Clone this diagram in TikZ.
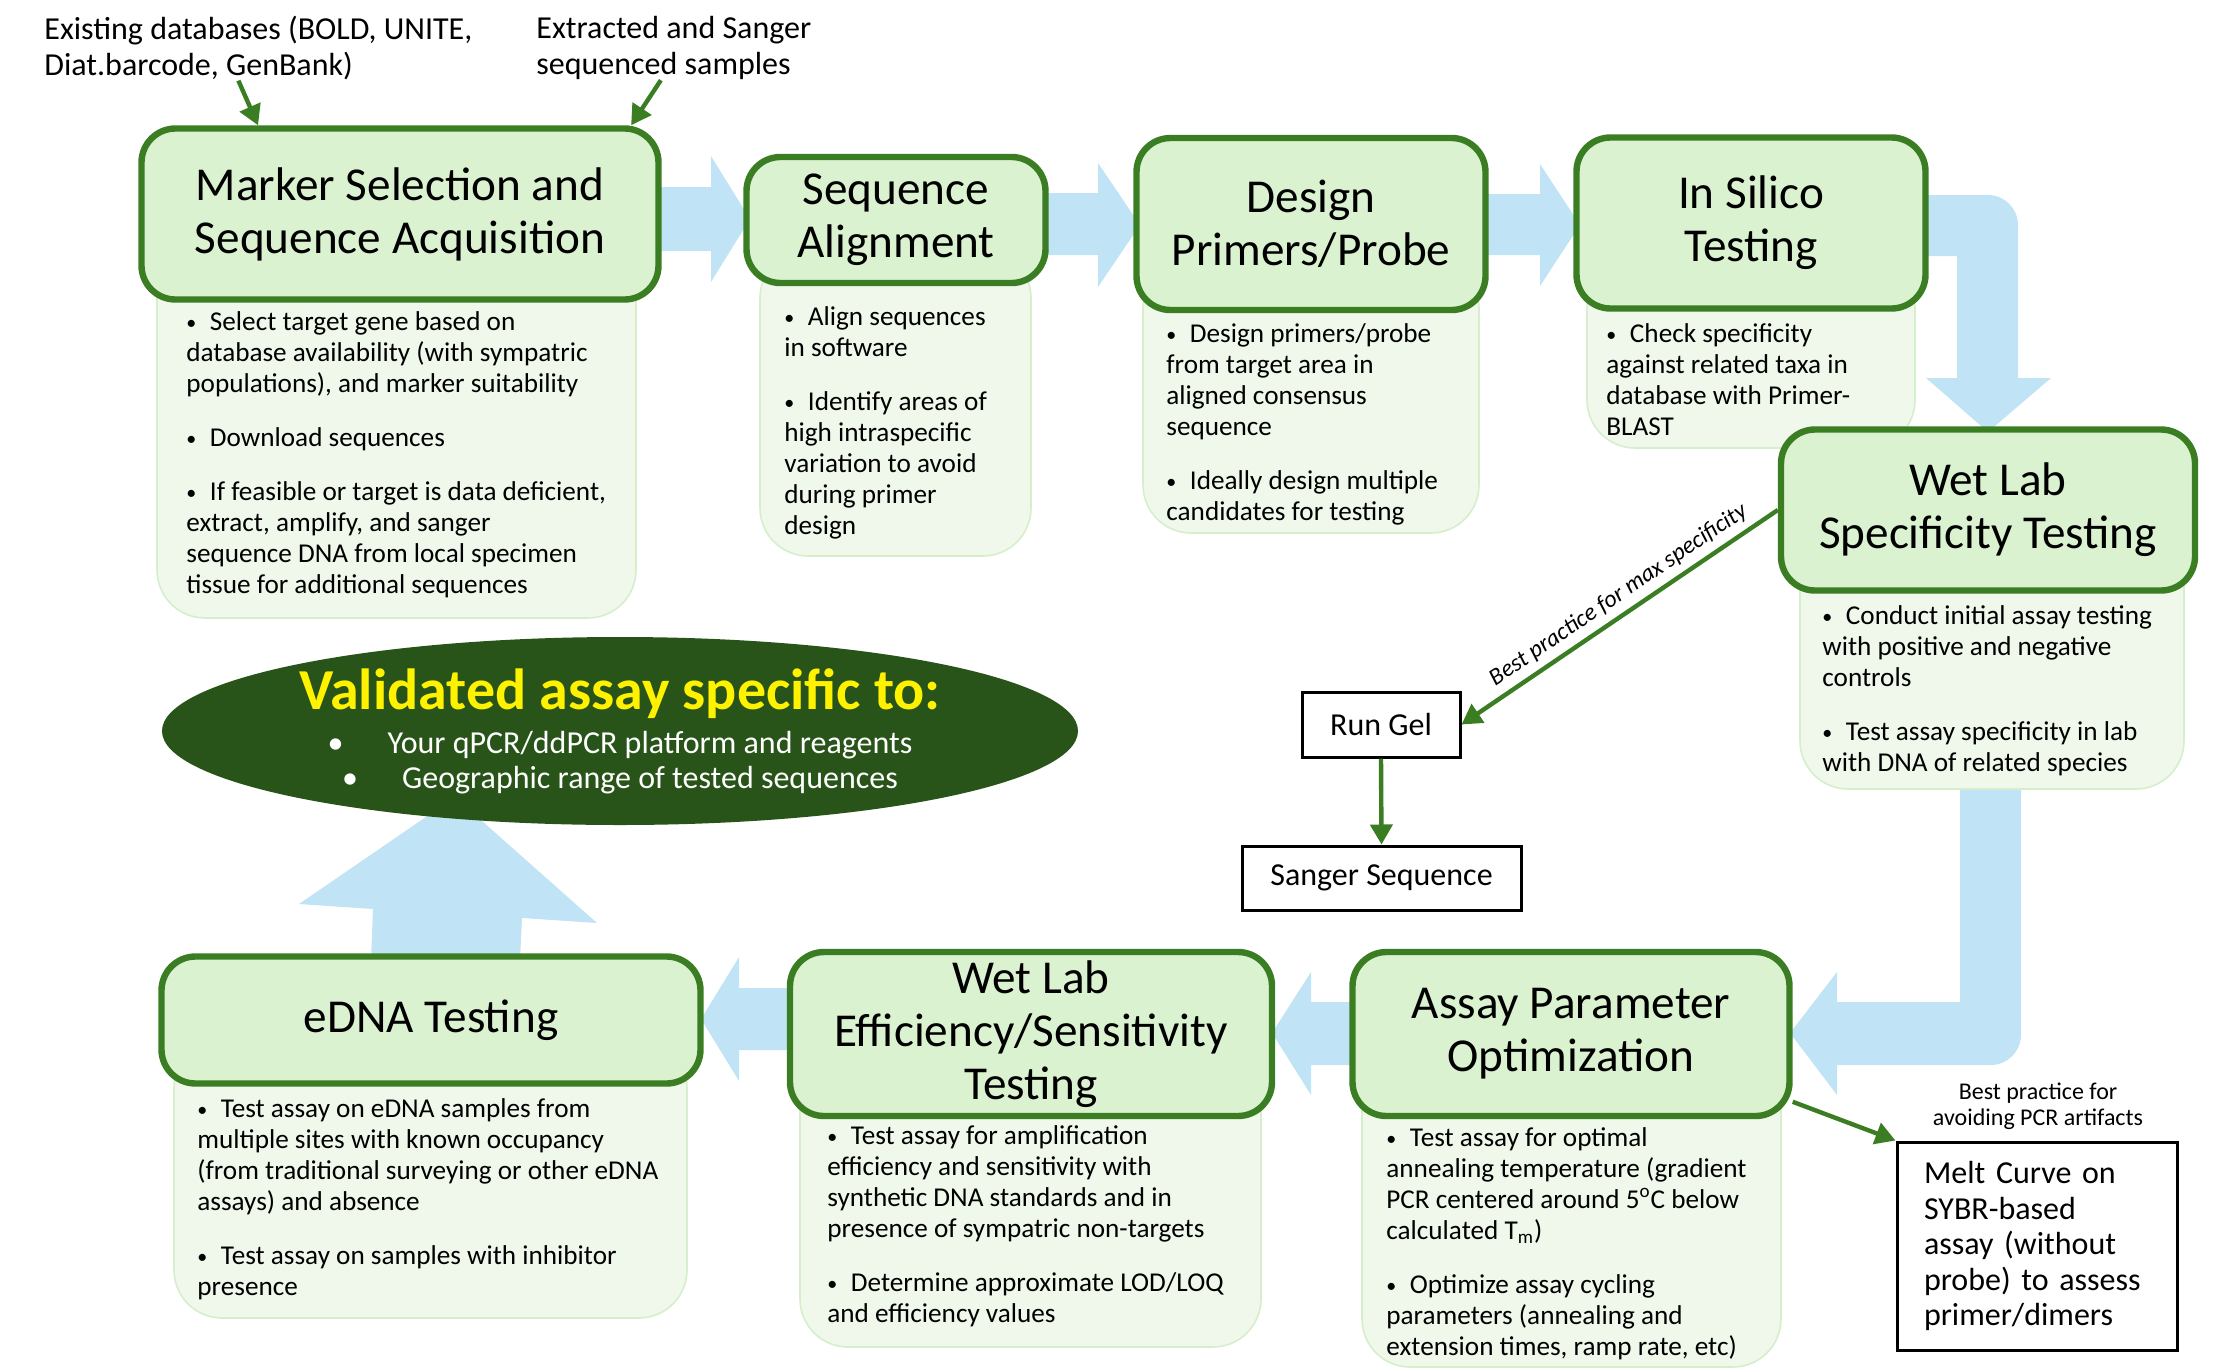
\documentclass[tikz,border=0pt]{standalone}
\usepackage{fontspec}
\setmainfont{Carlito}
\usetikzlibrary{positioning,shapes.geometric,arrows.meta}

\definecolor{stepgreen}{RGB}{59,125,35}
\definecolor{stepfill}{RGB}{218,242,208}
\definecolor{notefill}{RGB}{239,248,235}
\definecolor{noteline}{RGB}{214,238,204}
\definecolor{flowblue}{RGB}{192,228,245}
\definecolor{darkgreen}{RGB}{40,84,25}

\newcommand{\bul}{{\fontsize{10}{10}\selectfont\raisebox{0.12ex}{•}}\hspace{0.5em}}

\begin{document}
\begin{tikzpicture}[x=0.5pt,y=-0.5pt,
	stepbox/.style={rectangle, rounded corners=17pt, draw=stepgreen, fill=stepfill, line width=3.2pt, align=center, font=\fontsize{23.6}{26.5}\selectfont},
	notebox/.style={rectangle, rounded corners=24pt, draw=noteline, fill=notefill, line width=0.8pt},
	notetext/.style={anchor=north west, inner sep=0pt, align=left, font=\fontsize{13.6}{15.5}\selectfont},
	plainbox/.style={rectangle, draw=black, line width=1.5pt, fill=white, font=\fontsize{16}{17.5}\selectfont},
	flowarrow/.style={fill=flowblue},
	greenarrow/.style={-{Triangle[length=10pt,width=11pt]}, draw=stepgreen, line width=2.2pt},
	]
	\useasboundingbox (0,0) rectangle (2222,1371);
	%Blue flow arrows
	\fill[flowarrow] (650,187) -- (711,187) -- (711,156) -- (750,219) -- (711,282) -- (711,251) -- (650,251) -- cycle;
	\fill[flowarrow] (1040,193) -- (1098,193) -- (1098,163) -- (1140,225) -- (1098,287) -- (1098,255) -- (1040,255) -- cycle;
	\fill[flowarrow] (1480,194) -- (1540,194) -- (1540,164) -- (1580,225) -- (1540,286) -- (1540,255) -- (1480,255) -- cycle;
	\fill[flowarrow] (1920,195) -- (1988,195) .. controls (2004.5,195) and (2018,208.5) .. (2018,225) -- (2018,378) -- (2051,378) -- (1988,432) -- (1926,378) -- (1957,378) -- (1957,256) -- (1920,256) -- cycle;
	\fill[flowarrow] (1960,780) -- (2021,780) -- (2021,1035) .. controls (2021,1051.5) and (2007.5,1065) .. (1991,1065) -- (1837,1065) -- (1837,1095) -- (1790,1033) -- (1837,972) -- (1837,1002) -- (1960,1002) -- cycle;
	\fill[flowarrow] (1360,1002) -- (1311,1002) -- (1311,972) -- (1272,1033) -- (1311,1095) -- (1311,1065) -- (1360,1065) -- cycle;
	\fill[flowarrow] (795,988) -- (739,988) -- (739,957) -- (701,1019) -- (739,1081) -- (739,1050) -- (795,1050) -- cycle;
	\fill[flowarrow] (371,960) -- (373,909) -- (299,904) -- (455,797) -- (597,923) -- (522,918) -- (520,960) -- cycle;
	%
	%Note boxes
	\node[notebox, minimum width=239.5pt, minimum height=184pt] (markN) at (396.5,434) {};
	\node[notebox, minimum width=135.5pt, minimum height=153pt] (alignN) at (895.5,403) {};
	\node[notebox, minimum width=168pt, minimum height=136.5pt] (designN) at (1311,396.5) {};
	\node[notebox, minimum width=164pt, minimum height=94pt] (silicoN) at (1751,354) {};
	\node[notebox, minimum width=192pt, minimum height=124.5pt] (specN) at (1992,664.5) {};
	\node[notebox, minimum width=209.5pt, minimum height=153.5pt] (assayN) at (1571.5,1213.5) {};
	\node[notebox, minimum width=230.5pt, minimum height=143.5pt] (efficN) at (1030.5,1203.5) {};
	\node[notebox, minimum width=256.5pt, minimum height=139pt] (ednaN) at (430.5,1179) {};
	%
	\node[notetext] (markT) at (186,311) {\bul Select target gene based on\\database availability (with sympatric\\populations), and marker suitability\\[11.5pt]\bul Download sequences\\[11.5pt]\bul If feasible or target is data deficient,\\extract, amplify, and sanger\\sequence DNA from local specimen\\tissue for additional sequences};
	\node[notetext] (alignT) at (784,306) {\bul Align sequences\\in software\\[11.5pt]\bul Identify areas of\\high intraspecific\\variation to avoid\\during primer\\design};
	\node[notetext] (designT) at (1166,323) {\bul Design primers/probe\\from target area in\\aligned consensus\\sequence\\[11.5pt]\bul Ideally design multiple\\candidates for testing};
	\node[notetext] (silicoT) at (1606,323) {\bul Check specificity\\against related taxa in\\database with Primer-\\BLAST};
	\node[notetext] (specT) at (1822,605) {\bul Conduct initial assay testing\\with positive and negative\\controls\\[11.5pt]\bul Test assay specificity in lab\\with DNA of related species};
	\node[notetext] (assayT) at (1386,1127) {\bul Test assay for optimal\\annealing temperature (gradient\\PCR centered around 5\textsuperscript{o}C below\\calculated T\textsubscript{m})\\[11.5pt]\bul Optimize assay cycling\\parameters (annealing and\\extension times, ramp rate, etc)};
	\node[notetext] (efficT) at (827,1125) {\bul Test assay for amplification\\efficiency and sensitivity with\\synthetic DNA standards and in\\presence of sympatric non-targets\\[11.5pt]\bul Determine approximate LOD/LOQ\\and efficiency values};
	\node[notetext] (ednaT) at (197,1098) {\bul Test assay on eDNA samples from\\multiple sites with known occupancy\\(from traditional surveying or other eDNA\\assays) and absence\\[11.5pt]\bul Test assay on samples with inhibitor\\presence};
	%
	%Step boxes
	\node[stepbox, minimum width=258.5pt, minimum height=85.5pt] (mark) at (400,214) {Marker Selection and\\Sequence Acquisition};
	\node[stepbox, minimum width=149.5pt, minimum height=63pt] (align) at (896,220) {Sequence\\Alignment};
	\node[stepbox, minimum width=174.5pt, minimum height=86pt] (design) at (1311,224) {Design\\Primers/Probe};
	\node[stepbox, minimum width=174.5pt, minimum height=85.5pt] (silico) at (1751,223) {In Silico\\Testing};
	\node[stepbox, minimum width=207pt, minimum height=80.5pt] (spec) at (1988,510) {Wet Lab\\Specificity Testing};
	\node[stepbox, minimum width=218.5pt, minimum height=82pt] (assay) at (1571,1034) {Assay Parameter\\Optimization};
	\node[stepbox, minimum width=241pt, minimum height=82pt] (effic) at (1031,1034) {Wet Lab\\Efficiency/Sensitivity\\Testing};
	\node[stepbox, minimum width=269.5pt, minimum height=63.5pt] (edna) at (431,1020) {eDNA Testing};
	%
	%Result
	\node[ellipse, fill=darkgreen, minimum width=458pt, minimum height=94pt, inner sep=0pt, align=center, text=white, font=\fontsize{16}{17.5}\selectfont] (valid) at (620,731) {{\color{yellow}\bfseries\fontsize{29}{30}\selectfont Validated assay specific to:}\\[4.5pt]•\hspace{22pt}Your qPCR/ddPCR platform and reagents\\•\hspace{22pt}Geographic range of tested sequences};
	%
	%Sources
	\node[anchor=north west, inner sep=0pt, align=left, font=\fontsize{16}{18}\selectfont] (db) at (44,16) {Existing databases (BOLD, UNITE,\\Diat.barcode, GenBank)};
	\node[anchor=north west, inner sep=0pt, align=left, font=\fontsize{16}{18}\selectfont] (sam) at (536,16) {Extracted and Sanger\\sequenced samples};
	%
	%Checks
	\node[plainbox, minimum width=79pt, minimum height=32.5pt] (gel) at (1381,724.5) {Run Gel};
	\node[plainbox, minimum width=139.5pt, minimum height=32pt] (sanger) at (1381.5,878) {Sanger Sequence};
	\node[plainbox, text width=113pt, inner xsep=13.5pt, minimum height=104pt, align=left, font=\fontsize{16}{17.75}\selectfont] (melt) at (2037,1246) {Melt Curve on\\SYBR-based\\assay (without\\probe) to assess\\primer/dimers};
	\node[align=center, font=\fontsize{12}{13}\selectfont] (meltL) at (2038,1106) {Best practice for\\avoiding PCR artifacts};
	%
	\draw[greenarrow] ([xshift=-10pt]db.south) -- (mark.148);
	\draw[greenarrow] ([xshift=-6.5pt]sam.south) -- (mark.21);
	\draw[greenarrow] (spec.west) -- node[sloped, above, pos=0.47, font=\itshape\fontsize{12}{13}\selectfont] {Best practice for max specificity} (gel.east);
	\draw[greenarrow] (gel.south) -- (sanger.north);
	\draw[greenarrow] (assay.-17) -- (melt.north west);
\end{tikzpicture}
\end{document}
